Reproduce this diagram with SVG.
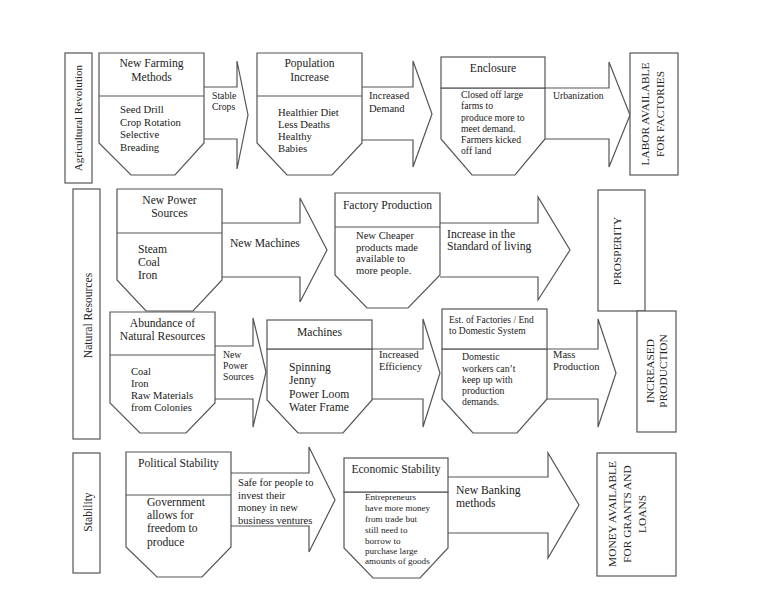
<svg xmlns="http://www.w3.org/2000/svg" width="768" height="593" viewBox="0 0 768 593">
<style>
  .shape { fill: #ffffff; stroke: #555555; stroke-width: 1.2; }
  .div { stroke: #555555; stroke-width: 1.2; fill: none; }
  .arrow { fill: #ffffff; stroke: #555555; stroke-width: 1.2; stroke-linejoin: miter; }
  text { font-family: "Liberation Serif", "Times New Roman", serif; fill: #222222; }
  .tt { font-size: 11.6px; text-anchor: middle; }
  .b { font-size: 10.7px; }
  .s { font-size: 9.7px; }
  .m { font-size: 11.6px; }
  .v { font-size: 11.4px; text-anchor: middle; }
</style>
<rect width="768" height="593" fill="#ffffff"/>

<g id="connectors">
  <path class="arrow" d="M204,87 L237,87 L237,61 L248,115 L237,169 L237,139 L204,139"/>
  <path class="arrow" d="M362,87 L413,87 L413,61 L432,114 L413,167 L413,140 L362,140"/>
  <path class="arrow" d="M545,88 L609,88 L609,62 L630,115 L609,167 L609,139 L545,139"/>
  <path class="arrow" d="M222,223 L300,223 L300,198 L327,250 L300,302 L300,277 L222,277"/>
  <path class="arrow" d="M440,223 L538,223 L538,197 L570,250 L538,300 L538,277 L440,277"/>
  <path class="arrow" d="M215,346 L253,346 L253,318 L266,372 L253,427 L253,399 L215,399"/>
  <path class="arrow" d="M372,349 L423,349 L423,319 L440,373 L423,427 L423,399 L372,399"/>
  <path class="arrow" d="M547,349 L598,349 L598,319 L616,373 L598,427 L598,399 L547,399"/>
  <path class="arrow" d="M231,473 L309,473 L309,447 L335,500 L309,552 L309,526 L231,526"/>
  <path class="arrow" d="M448,477 L548,477 L548,453 L579,505 L548,558 L548,533 L448,533"/>
  <text class="s" x="212" y="98.5">Stable</text>
  <text class="s" x="212" y="110">Crops</text>
  <text font-size="10.5" x="369" y="98.5">Increased</text>
  <text font-size="10.5" x="369" y="111.5">Demand</text>
  <text class="s" x="553" y="98.5">Urbanization</text>
  <text class="m" x="230" y="247">New Machines</text>
  <text font-size="11.7" x="447" y="237.5">Increase in the</text>
  <text font-size="11.7" x="447" y="249.5">Standard of living</text>
  <text class="s" x="223" y="357.5">New</text>
  <text class="s" x="223" y="369">Power</text>
  <text class="s" x="223" y="380">Sources</text>
  <text font-size="10.4" x="379" y="357.5">Increased</text>
  <text font-size="10.4" x="379" y="370">Efficiency</text>
  <text font-size="10.6" x="553" y="358">Mass</text>
  <text font-size="10.6" x="553" y="370">Production</text>
  <text font-size="10.6" x="238" y="486">Safe for people to</text>
  <text font-size="10.6" x="238" y="498.5">invest their</text>
  <text font-size="10.6" x="238" y="511">money in new</text>
  <text font-size="10.6" x="238" y="523.5">business ventures</text>
  <text font-size="11.7" x="456" y="494">New Banking</text>
  <text font-size="11.7" x="456" y="506.5">methods</text>
</g>

<g id="label-agricultural">
  <rect class="shape" x="65" y="53" width="27" height="130"/>
  <text font-size="11.1" text-anchor="middle" transform="translate(82,118) rotate(-90)">Agricultural Revolution</text>
</g>
<g id="label-natural">
  <rect class="shape" x="73" y="189" width="27" height="250"/>
  <text class="m" text-anchor="middle" transform="translate(91.5,315.5) rotate(-90)">Natural Resources</text>
</g>
<g id="label-stability">
  <rect class="shape" x="73" y="453" width="27" height="120"/>
  <text class="m" text-anchor="middle" transform="translate(92,512) rotate(-90)">Stability</text>
</g>

<g id="node-farming">
  <polygon class="shape" points="99,53 204,53 204,143 175,175 131,175 99,143"/>
  <line class="div" x1="99" y1="96" x2="204" y2="96"/>
  <text class="tt" x="151.5" y="67">New Farming</text>
  <text class="tt" x="151.5" y="81">Methods</text>
  <text class="b" x="120" y="113">Seed Drill</text>
  <text class="b" x="120" y="125.5">Crop Rotation</text>
  <text class="b" x="120" y="138">Selective</text>
  <text class="b" x="120" y="150.5">Breading</text>
</g>
<g id="node-population">
  <polygon class="shape" points="257,53 362,53 362,143 332,175 287,175 257,143"/>
  <line class="div" x1="257" y1="96" x2="362" y2="96"/>
  <text class="tt" x="309.5" y="67">Population</text>
  <text class="tt" x="309.5" y="81">Increase</text>
  <text class="b" x="278" y="115.5">Healthier Diet</text>
  <text class="b" x="278" y="127.5">Less Deaths</text>
  <text class="b" x="278" y="140">Healthy</text>
  <text class="b" x="278" y="152">Babies</text>
</g>
<g id="node-enclosure">
  <polygon class="shape" points="441,88 545,88 545,139 515,175 472,175 441,139"/>
  <rect class="shape" x="441" y="57" width="104" height="31"/>
  <text class="tt" x="493" y="72">Enclosure</text>
  <text class="s" x="461" y="97.5">Closed off large</text>
  <text class="s" x="461" y="109">farms to</text>
  <text class="s" x="461" y="121">produce more to</text>
  <text class="s" x="461" y="132">meet demand.</text>
  <text class="s" x="461" y="143">Farmers kicked</text>
  <text class="s" x="461" y="153.5">off land</text>
</g>
<g id="node-labor">
  <rect class="shape" x="630" y="53" width="48" height="122"/>
  <text class="v" transform="translate(649,114) rotate(-90)">LABOR AVAILABLE</text>
  <text class="v" transform="translate(664,114) rotate(-90)">FOR FACTORIES</text>
</g>

<g id="node-power">
  <polygon class="shape" points="117,189 222,189 222,280 193,311 146,311 117,280"/>
  <line class="div" x1="117" y1="233" x2="222" y2="233"/>
  <text class="tt" x="169.5" y="204">New Power</text>
  <text class="tt" x="169.5" y="217">Sources</text>
  <text class="m" x="138" y="253">Steam</text>
  <text class="m" x="138" y="265.5">Coal</text>
  <text class="m" x="138" y="279">Iron</text>
</g>
<g id="node-factory">
  <polygon class="shape" points="335,193 440,193 440,275 408,308 367,308 335,275"/>
  <line class="div" x1="335" y1="227" x2="440" y2="227"/>
  <text class="tt" x="387.5" y="209">Factory Production</text>
  <text font-size="10.6" x="356" y="238.5">New Cheaper</text>
  <text font-size="10.6" x="356" y="250.5">products made</text>
  <text font-size="10.6" x="356" y="262">available to</text>
  <text font-size="10.6" x="356" y="273.5">more people.</text>
</g>
<g id="node-prosperity">
  <rect class="shape" x="598" y="190" width="47" height="121"/>
  <text class="v" transform="translate(621,251) rotate(-90)">PROSPERITY</text>
</g>

<g id="node-abundance">
  <polygon class="shape" points="110,312 215,312 215,403 186,433 140,433 110,403"/>
  <line class="div" x1="110" y1="355" x2="215" y2="355"/>
  <text class="tt" x="162.5" y="327">Abundance of</text>
  <text class="tt" x="162.5" y="340">Natural Resources</text>
  <text font-size="10.6" x="131" y="374.5">Coal</text>
  <text font-size="10.6" x="131" y="387">Iron</text>
  <text font-size="10.6" x="131" y="399">Raw Materials</text>
  <text font-size="10.6" x="131" y="411">from Colonies</text>
</g>
<g id="node-machines">
  <polygon class="shape" points="267,349 372,349 372,400 343,433 298,433 267,400"/>
  <rect class="shape" x="267" y="320" width="105" height="29"/>
  <text class="tt" x="319.5" y="335.5">Machines</text>
  <text class="m" x="289" y="370.5">Spinning</text>
  <text class="m" x="289" y="384">Jenny</text>
  <text class="m" x="289" y="398">Power Loom</text>
  <text class="m" x="289" y="411">Water Frame</text>
</g>
<g id="node-establishment">
  <polygon class="shape" points="442,349 547,349 547,399 517,433 473,433 442,399"/>
  <rect class="shape" x="442" y="309" width="105" height="40"/>
  <text font-size="9.5" x="449" y="322.5">Est. of Factories / End</text>
  <text font-size="9.5" x="449" y="334">to Domestic System</text>
  <text font-size="9.8" x="462" y="360">Domestic</text>
  <text font-size="9.8" x="462" y="371.5">workers can’t</text>
  <text font-size="9.8" x="462" y="383">keep up with</text>
  <text font-size="9.8" x="462" y="394">production</text>
  <text font-size="9.8" x="462" y="405">demands.</text>
</g>
<g id="node-increased">
  <rect class="shape" x="637" y="311" width="39" height="121"/>
  <text class="v" font-size="11.8" transform="translate(654,371) rotate(-90)">INCREASED</text>
  <text class="v" font-size="11.8" transform="translate(667,371) rotate(-90)">PRODUCTION</text>
</g>

<g id="node-political">
  <polygon class="shape" points="126,452 231,452 231,547 202,577 157,577 126,547"/>
  <line class="div" x1="126" y1="495" x2="231" y2="495"/>
  <text class="tt" x="178.5" y="467">Political Stability</text>
  <text class="m" x="147" y="505.5">Government</text>
  <text class="m" x="147" y="519">allows for</text>
  <text class="m" x="147" y="532">freedom to</text>
  <text class="m" x="147" y="545.5">produce</text>
</g>
<g id="node-economic">
  <polygon class="shape" points="344,492 448,492 448,548 420,578 373,578 344,548"/>
  <rect class="shape" x="344" y="458" width="104" height="34"/>
  <text class="tt" font-size="11.8" x="396" y="473">Economic Stability</text>
  <text font-size="9.1" x="365" y="500">Entrepreneurs</text>
  <text font-size="9.1" x="365" y="511">have more money</text>
  <text font-size="9.1" x="365" y="522">from trade but</text>
  <text font-size="9.1" x="365" y="533">still need to</text>
  <text font-size="9.1" x="365" y="544">borrow to</text>
  <text font-size="9.1" x="365" y="554">purchase large</text>
  <text font-size="9.1" x="365" y="564">amounts of goods</text>
</g>
<g id="node-money">
  <rect class="shape" x="597" y="453" width="79" height="123"/>
  <text class="v" transform="translate(616,514) rotate(-90)">MONEY AVAILABLE</text>
  <text class="v" transform="translate(631,514) rotate(-90)">FOR GRANTS AND</text>
  <text class="v" transform="translate(646,514) rotate(-90)">LOANS</text>
</g>
</svg>
